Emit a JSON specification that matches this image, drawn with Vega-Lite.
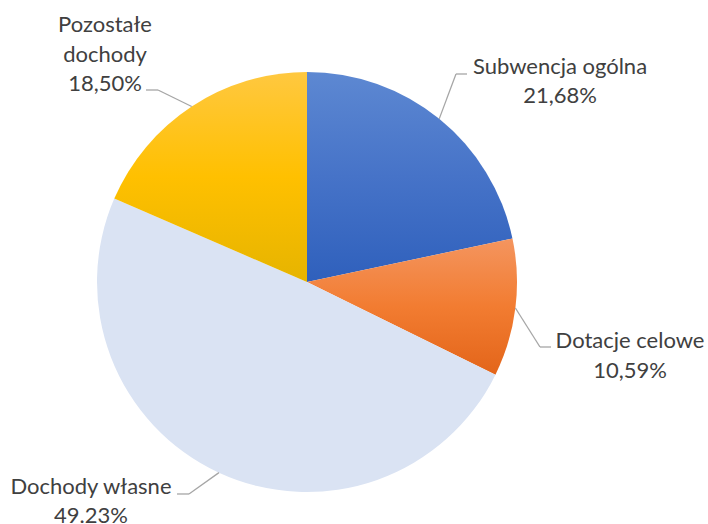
{
  "$schema": "https://vega.github.io/schema/vega-lite/v6.json",
  "width": 708,
  "height": 524,
  "autosize": {"type": "none"},
  "padding": 0,
  "background": "white",
  "config": {
    "view": {"stroke": null},
    "axis": {"disable": true},
    "text": {"font": "Lato", "fontSize": 22, "color": "#404040"}
  },
  "data": {
    "values": [
      {"kolejnosc": 1, "kategoria": "Subwencja ogólna", "udzial": 21.68, "etykieta": "Subwencja ogólna\n21,68%"},
      {"kolejnosc": 2, "kategoria": "Dotacje celowe", "udzial": 10.59, "etykieta": "Dotacje celowe\n10,59%"},
      {"kolejnosc": 3, "kategoria": "Dochody własne", "udzial": 49.23, "etykieta": "Dochody własne\n49.23%"},
      {"kolejnosc": 4, "kategoria": "Pozostałe dochody", "udzial": 18.50, "etykieta": "Pozostałe\ndochody\n18,50%"}
    ]
  },
  "transform": [
    {"stack": "udzial", "groupby": [], "as": ["poczatek", "koniec"], "sort": [{"field": "kolejnosc", "order": "ascending"}]},
    {"calculate": "PI * (datum.poczatek + datum.koniec) / 100", "as": "kat"},
    {"calculate": "sin(datum.kat)", "as": "ex"},
    {"calculate": "cos(datum.kat)", "as": "ey"}
  ],
  "layer": [
    {
      "transform": [{"filter": "datum.kolejnosc === 1"}],
      "mark": {"type": "arc", "outerRadius": 210, "fill": {"gradient": "linear", "x1": 0, "y1": 0, "x2": 0, "y2": 1, "stops": [{"offset": 0, "color": "#5D88D2"}, {"offset": 0.5, "color": "#4673C8"}, {"offset": 1, "color": "#2F60BC"}]}},
      "encoding": {
        "theta": {"field": "poczatek", "type": "quantitative", "scale": {"domain": [0, 100]}},
        "theta2": {"field": "koniec"},
        "x": {"datum": 0, "type": "quantitative", "axis": null, "scale": {"domain": [-1.4619, 1.9095], "nice": false, "zero": false}},
        "y": {"datum": 0, "type": "quantitative", "axis": null, "scale": {"domain": [-1.1524, 1.3429], "nice": false, "zero": false}}
      }
    },
    {
      "transform": [{"filter": "datum.kolejnosc === 2"}],
      "mark": {"type": "arc", "outerRadius": 210, "fill": {"gradient": "linear", "x1": 0, "y1": 0, "x2": 0, "y2": 1, "stops": [{"offset": 0, "color": "#F4955F"}, {"offset": 0.5, "color": "#F27C31"}, {"offset": 1, "color": "#E3651A"}]}},
      "encoding": {
        "theta": {"field": "poczatek", "type": "quantitative", "scale": {"domain": [0, 100]}},
        "theta2": {"field": "koniec"},
        "x": {"datum": 0, "type": "quantitative", "axis": null, "scale": {"domain": [-1.4619, 1.9095], "nice": false, "zero": false}},
        "y": {"datum": 0, "type": "quantitative", "axis": null, "scale": {"domain": [-1.1524, 1.3429], "nice": false, "zero": false}}
      }
    },
    {
      "transform": [{"filter": "datum.kolejnosc === 3"}],
      "mark": {"type": "arc", "outerRadius": 210, "fill": "#DAE3F3"},
      "encoding": {
        "theta": {"field": "poczatek", "type": "quantitative", "scale": {"domain": [0, 100]}},
        "theta2": {"field": "koniec"},
        "x": {"datum": 0, "type": "quantitative", "axis": null, "scale": {"domain": [-1.4619, 1.9095], "nice": false, "zero": false}},
        "y": {"datum": 0, "type": "quantitative", "axis": null, "scale": {"domain": [-1.1524, 1.3429], "nice": false, "zero": false}}
      }
    },
    {
      "transform": [{"filter": "datum.kolejnosc === 4"}],
      "mark": {"type": "arc", "outerRadius": 210, "fill": {"gradient": "linear", "x1": 0, "y1": 0, "x2": 0, "y2": 1, "stops": [{"offset": 0, "color": "#FFC840"}, {"offset": 0.5, "color": "#FFC000"}, {"offset": 1, "color": "#E6B400"}]}},
      "encoding": {
        "theta": {"field": "poczatek", "type": "quantitative", "scale": {"domain": [0, 100]}},
        "theta2": {"field": "koniec"},
        "x": {"datum": 0, "type": "quantitative", "axis": null, "scale": {"domain": [-1.4619, 1.9095], "nice": false, "zero": false}},
        "y": {"datum": 0, "type": "quantitative", "axis": null, "scale": {"domain": [-1.1524, 1.3429], "nice": false, "zero": false}}
      }
    },
    {
      "transform": [{"filter": "datum.kolejnosc === 1"}],
      "mark": {"type": "rule", "color": "#A6A6A6", "strokeWidth": 1.3},
      "encoding": {
        "x": {"field": "ex", "type": "quantitative", "axis": null, "scale": {"domain": [-1.4619, 1.9095], "nice": false, "zero": false}},
        "y": {"field": "ey", "type": "quantitative", "axis": null, "scale": {"domain": [-1.1524, 1.3429], "nice": false, "zero": false}},
        "x2": {"datum": 0.7095},
        "y2": {"datum": 0.9905}
      }
    },
    {
      "transform": [{"filter": "datum.kolejnosc === 1"}],
      "mark": {"type": "rule", "color": "#A6A6A6", "strokeWidth": 1.3},
      "encoding": {
        "x": {"datum": 0.7095, "type": "quantitative", "axis": null, "scale": {"domain": [-1.4619, 1.9095], "nice": false, "zero": false}},
        "x2": {"datum": 0.7619},
        "y": {"datum": 0.9905, "type": "quantitative", "axis": null, "scale": {"domain": [-1.1524, 1.3429], "nice": false, "zero": false}}
      }
    },
    {
      "transform": [{"filter": "datum.kolejnosc === 2"}],
      "mark": {"type": "rule", "color": "#A6A6A6", "strokeWidth": 1.3},
      "encoding": {
        "x": {"field": "ex", "type": "quantitative", "axis": null, "scale": {"domain": [-1.4619, 1.9095], "nice": false, "zero": false}},
        "y": {"field": "ey", "type": "quantitative", "axis": null, "scale": {"domain": [-1.1524, 1.3429], "nice": false, "zero": false}},
        "x2": {"datum": 1.1095},
        "y2": {"datum": -0.3095}
      }
    },
    {
      "transform": [{"filter": "datum.kolejnosc === 2"}],
      "mark": {"type": "rule", "color": "#A6A6A6", "strokeWidth": 1.3},
      "encoding": {
        "x": {"datum": 1.1095, "type": "quantitative", "axis": null, "scale": {"domain": [-1.4619, 1.9095], "nice": false, "zero": false}},
        "x2": {"datum": 1.1619},
        "y": {"datum": -0.3095, "type": "quantitative", "axis": null, "scale": {"domain": [-1.1524, 1.3429], "nice": false, "zero": false}}
      }
    },
    {
      "transform": [{"filter": "datum.kolejnosc === 3"}],
      "mark": {"type": "rule", "color": "#A6A6A6", "strokeWidth": 1.3},
      "encoding": {
        "x": {"field": "ex", "type": "quantitative", "axis": null, "scale": {"domain": [-1.4619, 1.9095], "nice": false, "zero": false}},
        "y": {"field": "ey", "type": "quantitative", "axis": null, "scale": {"domain": [-1.1524, 1.3429], "nice": false, "zero": false}},
        "x2": {"datum": -0.5619},
        "y2": {"datum": -1.0095}
      }
    },
    {
      "transform": [{"filter": "datum.kolejnosc === 3"}],
      "mark": {"type": "rule", "color": "#A6A6A6", "strokeWidth": 1.3},
      "encoding": {
        "x": {"datum": -0.5619, "type": "quantitative", "axis": null, "scale": {"domain": [-1.4619, 1.9095], "nice": false, "zero": false}},
        "x2": {"datum": -0.619},
        "y": {"datum": -1.0095, "type": "quantitative", "axis": null, "scale": {"domain": [-1.1524, 1.3429], "nice": false, "zero": false}}
      }
    },
    {
      "transform": [{"filter": "datum.kolejnosc === 4"}],
      "mark": {"type": "rule", "color": "#A6A6A6", "strokeWidth": 1.3},
      "encoding": {
        "x": {"field": "ex", "type": "quantitative", "axis": null, "scale": {"domain": [-1.4619, 1.9095], "nice": false, "zero": false}},
        "y": {"field": "ey", "type": "quantitative", "axis": null, "scale": {"domain": [-1.1524, 1.3429], "nice": false, "zero": false}},
        "x2": {"datum": -0.7095},
        "y2": {"datum": 0.9143}
      }
    },
    {
      "transform": [{"filter": "datum.kolejnosc === 4"}],
      "mark": {"type": "rule", "color": "#A6A6A6", "strokeWidth": 1.3},
      "encoding": {
        "x": {"datum": -0.7095, "type": "quantitative", "axis": null, "scale": {"domain": [-1.4619, 1.9095], "nice": false, "zero": false}},
        "x2": {"datum": -0.7667},
        "y": {"datum": 0.9143, "type": "quantitative", "axis": null, "scale": {"domain": [-1.1524, 1.3429], "nice": false, "zero": false}}
      }
    },
    {
      "transform": [{"filter": "datum.kolejnosc === 1"}],
      "mark": {"type": "text", "align": "center", "baseline": "alphabetic", "lineBreak": "\n", "lineHeight": 29.3},
      "encoding": {
        "text": {"field": "etykieta", "type": "nominal"},
        "x": {"datum": 1.2048, "type": "quantitative", "axis": null, "scale": {"domain": [-1.4619, 1.9095], "nice": false, "zero": false}},
        "y": {"datum": 0.9905, "type": "quantitative", "axis": null, "scale": {"domain": [-1.1524, 1.3429], "nice": false, "zero": false}}
      }
    },
    {
      "transform": [{"filter": "datum.kolejnosc === 2"}],
      "mark": {"type": "text", "align": "center", "baseline": "alphabetic", "lineBreak": "\n", "lineHeight": 29.3},
      "encoding": {
        "text": {"field": "etykieta", "type": "nominal"},
        "x": {"datum": 1.5381, "type": "quantitative", "axis": null, "scale": {"domain": [-1.4619, 1.9095], "nice": false, "zero": false}},
        "y": {"datum": -0.3157, "type": "quantitative", "axis": null, "scale": {"domain": [-1.1524, 1.3429], "nice": false, "zero": false}}
      }
    },
    {
      "transform": [{"filter": "datum.kolejnosc === 3"}],
      "mark": {"type": "text", "align": "center", "baseline": "alphabetic", "lineBreak": "\n", "lineHeight": 29},
      "encoding": {
        "text": {"field": "etykieta", "type": "nominal"},
        "x": {"datum": -1.0286, "type": "quantitative", "axis": null, "scale": {"domain": [-1.4619, 1.9095], "nice": false, "zero": false}},
        "y": {"datum": -1.0119, "type": "quantitative", "axis": null, "scale": {"domain": [-1.1524, 1.3429], "nice": false, "zero": false}}
      }
    },
    {
      "transform": [{"filter": "datum.kolejnosc === 4"}],
      "mark": {"type": "text", "align": "center", "baseline": "alphabetic", "lineBreak": "\n", "lineHeight": 29.3},
      "encoding": {
        "text": {"field": "etykieta", "type": "nominal"},
        "x": {"datum": -0.9619, "type": "quantitative", "axis": null, "scale": {"domain": [-1.4619, 1.9095], "nice": false, "zero": false}},
        "y": {"datum": 1.189, "type": "quantitative", "axis": null, "scale": {"domain": [-1.1524, 1.3429], "nice": false, "zero": false}}
      }
    }
  ]
}
